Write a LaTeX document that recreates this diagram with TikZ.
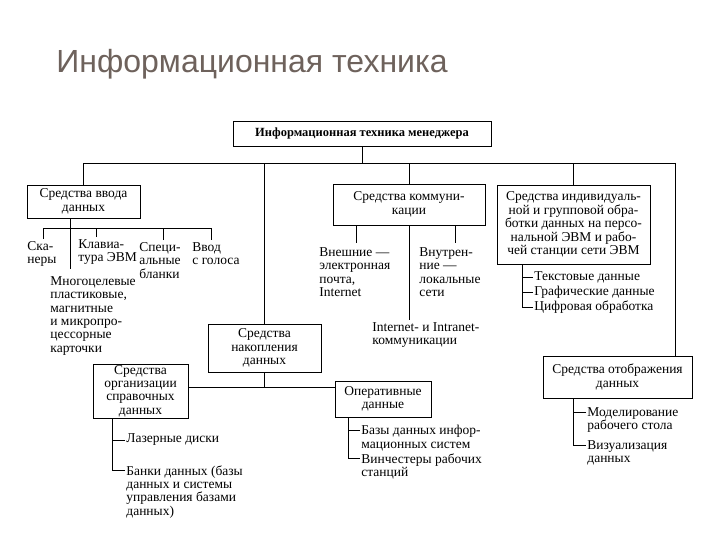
\documentclass[tikz,border=0pt]{standalone}
\usepackage{fontspec}
\setmainfont{Liberation Serif}
\newfontfamily\titlefont{Liberation Sans}
\usepackage{tikz}
\definecolor{titlegray}{RGB}{110,98,92}

\begin{document}
\begin{tikzpicture}[x=1pt, y=-1pt, line width=0.8pt,
    box/.style={draw, align=center, inner sep=0pt,
      font=\fontsize{13.5}{13.4}\selectfont},
    item/.style={anchor=north west, align=left, inner xsep=1pt, inner ysep=2pt,
      font=\fontsize{13.5}{13.4}\selectfont}]
    \useasboundingbox (0, 0) rectangle (720, 540);

    \node [anchor=base west, inner sep=0pt, text=titlegray, font=\titlefont\fontsize{32}{36}\selectfont]
      (title) at (56, 73) {Информационная техника};

    \node [box, minimum width=258, minimum height=25, font=\bfseries\fontsize{12.5}{13.5}\selectfont]
      (top) at (362, 133.5) {Информационная техника менеджера};
    \node [box, minimum width=113, minimum height=33] (vvod) at (83.5, 201.5)
      {Средства ввода\\данных};
    \node [box, minimum width=152, minimum height=41] (komm) at (409, 204.5)
      {Средства коммуни-\\кации};
    \node [box, minimum width=153, minimum height=79] (indiv) at (573.5, 224.5)
      {Средства индивидуаль-\\ной и групповой обра-\\ботки данных на персо-\\нальной ЭВМ и рабо-\\чей станции сети ЭВМ};
    \node [box, minimum width=113, minimum height=48] (nakop) at (264.5, 348)
      {Средства\\накопления\\данных};
    \node [box, minimum width=95, minimum height=54] (sprav) at (140.5, 391)
      {Средства\\организации\\справочных\\данных};
    \node [box, minimum width=96, minimum height=36] (oper) at (383, 399)
      {Оперативные\\данные};
    \node [box, minimum width=149, minimum height=42] (otobr) at (617.5, 377)
      {Средства отображения\\данных};

    \coordinate (busL) at (84, 163);
    \coordinate (busR) at (675, 163);
    \draw (busL) -- (busR);
    \draw (top) -- (top |- busL);
    \draw (vvod) -- (vvod |- busL);
    \draw (nakop) -- (nakop |- busL);
    \draw (komm) -- (komm |- busL);
    \draw (indiv) -- (indiv |- busL);
    \draw (busR) -- (busR |- otobr.north);

    \node [item] (skan) at (26, 239) {Ска-\\неры};
    \node [item] (klav) at (77, 237) {Клавиа-\\тура ЭВМ};
    \node [item] (mnogo) at (49, 274) {Многоцелевые\\пластиковые,\\магнитные\\и микропро-\\цессорные\\карточки};
    \node [item] (spec) at (138, 240) {Специ-\\альные\\бланки};
    \node [item] (golos) at (191, 240) {Ввод\\с голоса};
    \draw ([xshift=17pt]skan.north west) -- ++(0, -11) -| ([xshift=20pt]golos.north west);
    \draw ([xshift=19pt]klav.north west) -- ++(0, -9);
    \draw ([xshift=25pt]spec.north west) -- ++(0, -12);
    \draw ([xshift=-13pt]vvod.south) -- ++(0, 51);

    \node [item] (vnesh) at (318, 245) {Внешние —\\электронная\\почта,\\Internet};
    \node [item] (vnutr) at (418, 245) {Внутрен-\\ние —\\локальные\\сети};
    \node [item] (inet) at (371, 320) {Internet- и Intranet-\\коммуникации};
    \draw ([xshift=-53pt]komm.south) -- ++(0, 18);
    \draw ([xshift=46pt]komm.south) -- ++(0, 18);
    \draw (komm) -- (komm |- inet.north);

    \node [item, anchor=west] (tekst) at (533, 277) {Текстовые данные};
    \node [item, anchor=west] (graf) at (533, 292) {Графические данные};
    \node [item, anchor=west] (cifr) at (533, 307) {Цифровая обработка};
    \draw ([xshift=-51pt]indiv.south) |- (cifr.west);
    \draw (tekst.west) -- ++(-10.5, 0);
    \draw (graf.west) -- ++(-10.5, 0);

    \node [item] (model) at (586, 405) {Моделирование\\рабочего стола};
    \node [item] (vizual) at (586, 438) {Визуализация\\данных};
    \draw ([xshift=-44.5pt]otobr.south) |- ([yshift=-7pt]vizual.north west);
    \draw ([yshift=-7pt]model.north west) -- ++(-13, 0);

    \draw (nakop) -- ++(0, 39) coordinate (nkjoin);
    \draw (sprav.east |- nkjoin) -- (oper.west |- nkjoin);

    \node [item, anchor=west] (lazer) at (125, 440) {Лазерные диски};
    \node [item] (banki) at (125, 463) {Банки данных (базы\\данных и системы\\управления базами\\данных)};
    \draw ([xshift=-28.5pt]sprav.south) |- ([yshift=-7pt]banki.north west);
    \draw (lazer.west) -- ++(-13, 0);

    \node [item] (bazy) at (360, 423) {Базы данных инфор-\\мационных систем};
    \node [item] (vinch) at (360, 451) {Винчестеры рабочих\\станций};
    \draw ([xshift=-35pt]oper.south) |- ([yshift=-7pt]vinch.north west);
    \draw ([yshift=-7pt]bazy.north west) -- ++(-12, 0);
  \end{tikzpicture}
\end{document}
